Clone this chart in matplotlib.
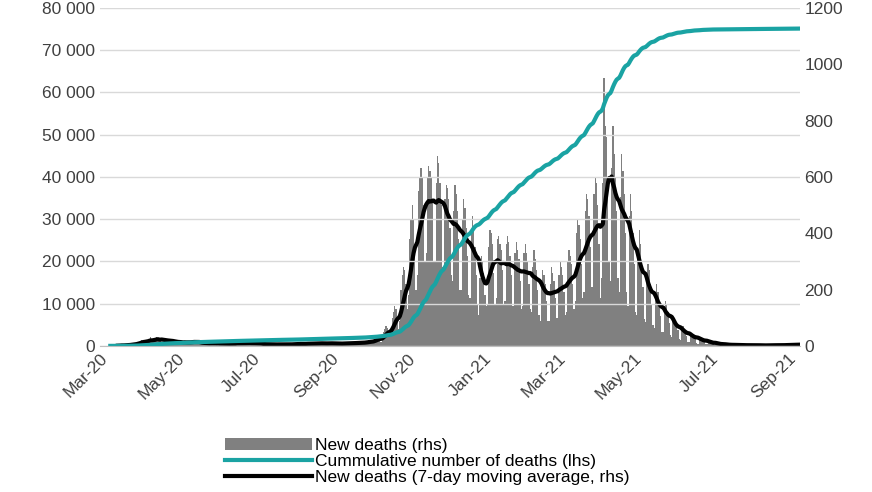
import matplotlib
matplotlib.use("Agg")
import matplotlib.pyplot as plt
import matplotlib.dates as mdates
from matplotlib.ticker import FuncFormatter
import numpy as np
import pandas as pd

plt.rcParams['font.family'] = ['Liberation Sans', 'DejaVu Sans']

# daily new deaths, one row per week (Mon..Sun), first week starts 2020-03-09
first_monday = "2020-03-09"
weekly_rows = [
    [0, 0, 0, 1, 1, 1, 2], [1, 2, 3, 1, 2, 3, 4], [3, 4, 6, 5, 7, 8, 6],
    [8, 12, 14, 15, 20, 18, 10], [14, 18, 20, 25, 30, 20, 12], [20, 25, 30, 28, 22, 18, 15],
    [15, 20, 25, 22, 20, 15, 10], [12, 18, 20, 15, 14, 10, 8], [10, 15, 14, 18, 12, 10, 8],
    [12, 15, 18, 20, 15, 10, 8], [12, 14, 10, 12, 10, 8, 6], [8, 12, 10, 14, 10, 8, 5],
    [8, 10, 12, 10, 9, 6, 4], [6, 10, 12, 8, 10, 7, 4], [8, 10, 12, 14, 10, 8, 5],
    [8, 10, 12, 15, 12, 8, 5], [6, 10, 12, 14, 10, 8, 4], [5, 8, 8, 7, 6, 5, 3],
    [4, 6, 8, 7, 5, 4, 2], [4, 6, 7, 6, 5, 4, 2], [4, 6, 8, 7, 6, 5, 3],
    [5, 8, 10, 9, 8, 6, 3], [6, 8, 10, 12, 9, 7, 4], [6, 10, 12, 13, 10, 8, 4],
    [6, 10, 11, 12, 10, 8, 5], [6, 10, 12, 11, 9, 7, 4], [6, 9, 10, 12, 10, 8, 5],
    [6, 10, 12, 13, 12, 9, 6], [8, 12, 14, 15, 13, 10, 7], [10, 15, 18, 20, 18, 14, 10],
    [15, 25, 30, 35, 30, 25, 15], [25, 50, 60, 70, 65, 50, 30], [45, 100, 120, 140, 130, 100, 60],
    [90, 200, 250, 280, 270, 220, 130], [180, 380, 450, 500, 450, 350, 200],
    [250, 550, 600, 630, 600, 500, 300], [330, 600, 640, 620, 600, 520, 300],
    [300, 580, 675, 650, 580, 500, 280], [270, 520, 570, 560, 520, 420, 250],
    [230, 480, 570, 540, 480, 380, 200], [200, 450, 520, 490, 420, 320, 180],
    [170, 400, 460, 420, 350, 250, 150], [110, 240, 320, 300, 260, 180, 140],
    [150, 350, 410, 400, 360, 260, 150], [170, 380, 390, 360, 340, 270, 150],
    [160, 360, 390, 370, 320, 250, 140], [140, 330, 370, 340, 310, 230, 130],
    [140, 330, 360, 330, 300, 220, 130], [120, 280, 340, 310, 270, 200, 110],
    [90, 230, 270, 250, 220, 160, 90], [90, 220, 280, 260, 230, 170, 100],
    [100, 250, 300, 280, 250, 190, 110], [120, 300, 340, 320, 290, 220, 130],
    [160, 400, 450, 430, 380, 290, 170], [190, 480, 540, 520, 460, 350, 210],
    [210, 540, 600, 580, 500, 360, 170], [240, 580, 950, 780, 740, 580, 300],
    [230, 630, 780, 680, 600, 480, 240], [190, 530, 680, 620, 540, 400, 190],
    [140, 460, 540, 480, 400, 290, 120], [110, 330, 410, 360, 300, 210, 95],
    [85, 240, 290, 270, 220, 150, 75], [65, 180, 220, 190, 160, 105, 50],
    [50, 140, 160, 150, 120, 80, 40], [30, 90, 100, 90, 80, 55, 25],
    [20, 60, 70, 60, 55, 35, 15], [15, 40, 45, 40, 35, 25, 10],
    [8, 25, 30, 25, 22, 15, 6], [5, 15, 18, 15, 12, 8, 4], [3, 8, 10, 8, 7, 5, 2],
    [2, 5, 6, 5, 4, 3, 1], [2, 4, 5, 4, 3, 2, 1], [1, 3, 4, 3, 3, 2, 1],
    [1, 3, 3, 3, 2, 2, 1], [1, 2, 3, 2, 2, 1, 1], [1, 3, 4, 3, 2, 2, 1],
    [1, 3, 4, 4, 3, 2, 1], [2, 4, 5, 4, 4, 3, 2], [2, 5, 6, 6, 5, 4, 2],
    [3, 6, 7, 8, 7, 5, 3],
]

new_deaths = np.array(weekly_rows, dtype=float).ravel()
dates = pd.date_range(first_monday, periods=len(new_deaths), freq="D")
s = pd.Series(new_deaths, index=dates)
ma7 = s.rolling(7).mean()
cumul = s.cumsum()

fig = plt.figure(figsize=(8.72, 4.92), dpi=100)
ax = fig.add_axes([0.115, 0.297, 0.802, 0.687])
ax2 = ax.twinx()

bars = ax2.bar(dates, new_deaths, width=1.0, color="#808080", linewidth=0, label="New deaths (rhs)")
l1, = ax.plot(dates, cumul, color="#1aa3a3", lw=3, label="Cummulative number of deaths (lhs)")
l2, = ax2.plot(dates, ma7, color="black", lw=3, label="New deaths (7-day moving average, rhs)")
ax.set_zorder(ax2.get_zorder() + 1)
ax.patch.set_visible(False)

ax.set_ylim(0, 80000)
ax2.set_ylim(0, 1200)
ax.set_yticks(np.arange(0, 80001, 10000))
ax2.set_yticks(np.arange(0, 1201, 200))
ax.yaxis.set_major_formatter(FuncFormatter(lambda v, p: f"{int(v):,}".replace(",", " ")))
ax.set_xlim(pd.Timestamp("2020-03-01"), pd.Timestamp("2021-09-10"))
ax.xaxis.set_major_locator(mdates.MonthLocator(bymonth=[1, 3, 5, 7, 9, 11]))
ax.xaxis.set_major_formatter(mdates.DateFormatter("%b-%y"))
for lab in ax.get_xticklabels():
    lab.set_rotation(45)
    lab.set_ha("right")
    lab.set_rotation_mode("anchor")

ax.grid(axis="y", color="#d9d9d9", lw=1)
ax.set_axisbelow(True)
for a in (ax, ax2):
    for sp in a.spines.values():
        sp.set_visible(False)
    a.tick_params(length=0, labelsize=12.5, colors="#404040")
ax.spines["bottom"].set_visible(True)
ax.spines["bottom"].set_color("#bfbfbf")
ax2.grid(False)

fig.legend([bars, l1, l2], [bars.get_label(), l1.get_label(), l2.get_label()],
           loc="lower center", bbox_to_anchor=(0.49, -0.01), frameon=False, fontsize=12.5,
           handlelength=5, labelspacing=0.05, handletextpad=0.2, borderpad=0.2)

fig.savefig("out.png", dpi=100)
